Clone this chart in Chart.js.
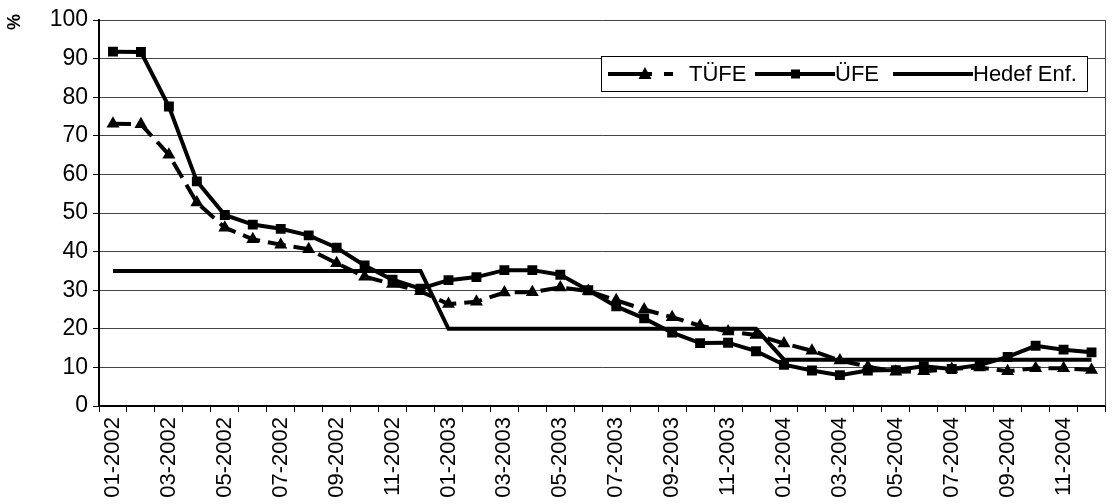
<!DOCTYPE html>
<html>
<head>
<meta charset="utf-8">
<script src="https://cdn.jsdelivr.net/npm/chart.js@4.4.0/dist/chart.umd.min.js"></script>
<style>
  html, body { margin: 0; padding: 0; background: #fff; }
  #wrap { width: 1113px; height: 504px; position: relative; }
  canvas { display: block; }
</style>
</head>
<body>
<div id="wrap"><canvas id="c" width="1113" height="504"></canvas></div>
<script>
// Monthly periods, 01-2002 .. 12-2004
const months = [
  '01-2002','02-2002','03-2002','04-2002','05-2002','06-2002','07-2002','08-2002','09-2002','10-2002','11-2002','12-2002',
  '01-2003','02-2003','03-2003','04-2003','05-2003','06-2003','07-2003','08-2003','09-2003','10-2003','11-2003','12-2003',
  '01-2004','02-2004','03-2004','04-2004','05-2004','06-2004','07-2004','08-2004','09-2004','10-2004','11-2004','12-2004'
];

// Consumer price inflation, annual %
const tufe = [
  73.1, 73.0, 65.1, 52.7, 46.2, 43.2, 41.8, 40.6, 37.0, 33.5, 31.6, 29.7,
  26.4, 27.0, 29.4, 29.5, 30.7, 29.8, 27.4, 25.0, 23.0, 20.8, 19.3, 18.4,
  16.2, 14.3, 11.8, 10.2, 8.9, 9.0, 9.6, 10.0, 9.0, 9.8, 9.8, 9.3
];

// Producer price inflation, annual %
const ufe = [
  91.8, 91.7, 77.6, 58.2, 49.5, 47.0, 45.9, 44.2, 41.0, 36.4, 32.7, 30.4,
  32.6, 33.4, 35.2, 35.2, 34.0, 30.0, 25.8, 22.7, 19.0, 16.3, 16.4, 14.2,
  10.7, 9.2, 8.0, 9.2, 9.3, 10.3, 9.6, 10.6, 12.7, 15.6, 14.6, 13.9
];

// Year-end inflation target
const hedef = [
  35, 35, 35, 35, 35, 35, 35, 35, 35, 35, 35, 35,
  20, 20, 20, 20, 20, 20, 20, 20, 20, 20, 20, 20,
  12, 12, 12, 12, 12, 12, 12, 12, 12, 12, 12, 12
];

const seriesNames = ['TÜFE', 'ÜFE', 'Hedef Enf.'];
const yAxisUnit = '%';

const FONT = 'Liberation Sans, Arial, sans-serif';
const FRAME_RIGHT = 1105;

// Frame edge on the right, rotated unit label and the boxed legend
const decorations = {
  id: 'decorations',
  afterDraw(chart) {
    const ctx = chart.ctx;
    const a = chart.chartArea;
    ctx.save();

    // plot frame stops short of the canvas edge
    ctx.fillStyle = '#fff';
    ctx.fillRect(FRAME_RIGHT + 1, 0, chart.width - FRAME_RIGHT, a.bottom + 10);
    ctx.strokeStyle = '#444';
    ctx.lineWidth = 1;
    ctx.beginPath();
    ctx.moveTo(FRAME_RIGHT + 0.5, a.top);
    ctx.lineTo(FRAME_RIGHT + 0.5, a.bottom);
    ctx.stroke();

    ctx.fillStyle = '#000';
    ctx.font = 'bold 18px ' + FONT;
    ctx.translate(15, 22);
    ctx.rotate(-Math.PI / 2);
    ctx.textAlign = 'center';
    ctx.textBaseline = 'middle';
    ctx.fillText(yAxisUnit, 0, 0);
    ctx.restore();

    // legend
    ctx.save();
    const bx = 601, by = 56, bw = 486, bh = 35;
    ctx.fillStyle = '#fff';
    ctx.fillRect(bx, by, bw, bh);
    ctx.strokeStyle = '#000';
    ctx.lineWidth = 1;
    ctx.strokeRect(bx + 0.5, by + 0.5, bw, bh);
    const cy = by + bh / 2 + 0.5;
    ctx.strokeStyle = '#000';
    ctx.fillStyle = '#000';
    ctx.lineWidth = 4;

    ctx.setLineDash([44, 12]);
    ctx.beginPath(); ctx.moveTo(608, cy); ctx.lineTo(673, cy); ctx.stroke();
    ctx.setLineDash([]);
    ctx.beginPath();
    ctx.moveTo(645, cy - 7); ctx.lineTo(651.5, cy + 5); ctx.lineTo(638.5, cy + 5); ctx.closePath(); ctx.fill();

    ctx.beginPath(); ctx.moveTo(755, cy); ctx.lineTo(835, cy); ctx.stroke();
    ctx.fillRect(791, cy - 4.5, 9, 9);

    ctx.beginPath(); ctx.moveTo(893, cy); ctx.lineTo(973, cy); ctx.stroke();

    ctx.font = '22px ' + FONT;
    ctx.textBaseline = 'middle';
    ctx.textAlign = 'left';
    ctx.fillText(seriesNames[0], 689, cy + 1);
    ctx.fillText(seriesNames[1], 835, cy + 1);
    ctx.fillText(seriesNames[2], 973, cy + 1);
    ctx.restore();
  }
};

new Chart(document.getElementById('c'), {
  type: 'line',
  data: {
    labels: months,
    datasets: [
      {
        label: seriesNames[0],
        data: tufe,
        borderColor: '#000',
        backgroundColor: '#000',
        borderWidth: 4,
        borderDash: [18, 8],
        pointStyle: 'triangle',
        pointRadius: 7.5,
        pointBorderWidth: 0,
        tension: 0,
        fill: false,
        order: 2
      },
      {
        label: seriesNames[1],
        data: ufe,
        borderColor: '#000',
        backgroundColor: '#000',
        borderWidth: 4,
        pointStyle: 'rect',
        pointRadius: 7,
        pointBorderWidth: 0,
        tension: 0,
        fill: false,
        order: 1
      },
      {
        label: seriesNames[2],
        data: hedef,
        borderColor: '#000',
        backgroundColor: '#000',
        borderWidth: 4,
        pointRadius: 0,
        tension: 0,
        fill: false,
        order: 3
      }
    ]
  },
  options: {
    responsive: false,
    devicePixelRatio: 1,
    animation: false,
    layout: { padding: { top: 20, right: 0, left: 0, bottom: 0 } },
    plugins: {
      legend: { display: false },
      tooltip: { enabled: false }
    },
    scales: {
      x: {
        type: 'category',
        offset: true,
        grid: {
          offset: true,
          drawOnChartArea: false,
          drawTicks: true,
          tickLength: 6,
          color: '#000',
          tickColor: '#000',
          lineWidth: 1
        },
        border: { color: '#000', width: 2 },
        ticks: {
          autoSkip: false,
          maxRotation: 90,
          minRotation: 90,
          padding: 5,
          color: '#000',
          font: { family: FONT, size: 22 },
          callback: (v, i) => (i % 2 === 0 ? months[i] : '')
        },
        afterFit: (s) => { s.height = 98; s.paddingLeft = 0; s.paddingRight = 0; }
      },
      y: {
        min: 0,
        max: 100,
        ticks: {
          stepSize: 10,
          padding: 5,
          color: '#000',
          font: { family: FONT, size: 23 }
        },
        grid: {
          color: '#444',
          tickColor: '#000',
          lineWidth: 1,
          tickLength: 6
        },
        border: { color: '#000', width: 2 },
        afterFit: (s) => { s.width = 99; }
      }
    }
  },
  plugins: [decorations]
});
</script>
</body>
</html>
